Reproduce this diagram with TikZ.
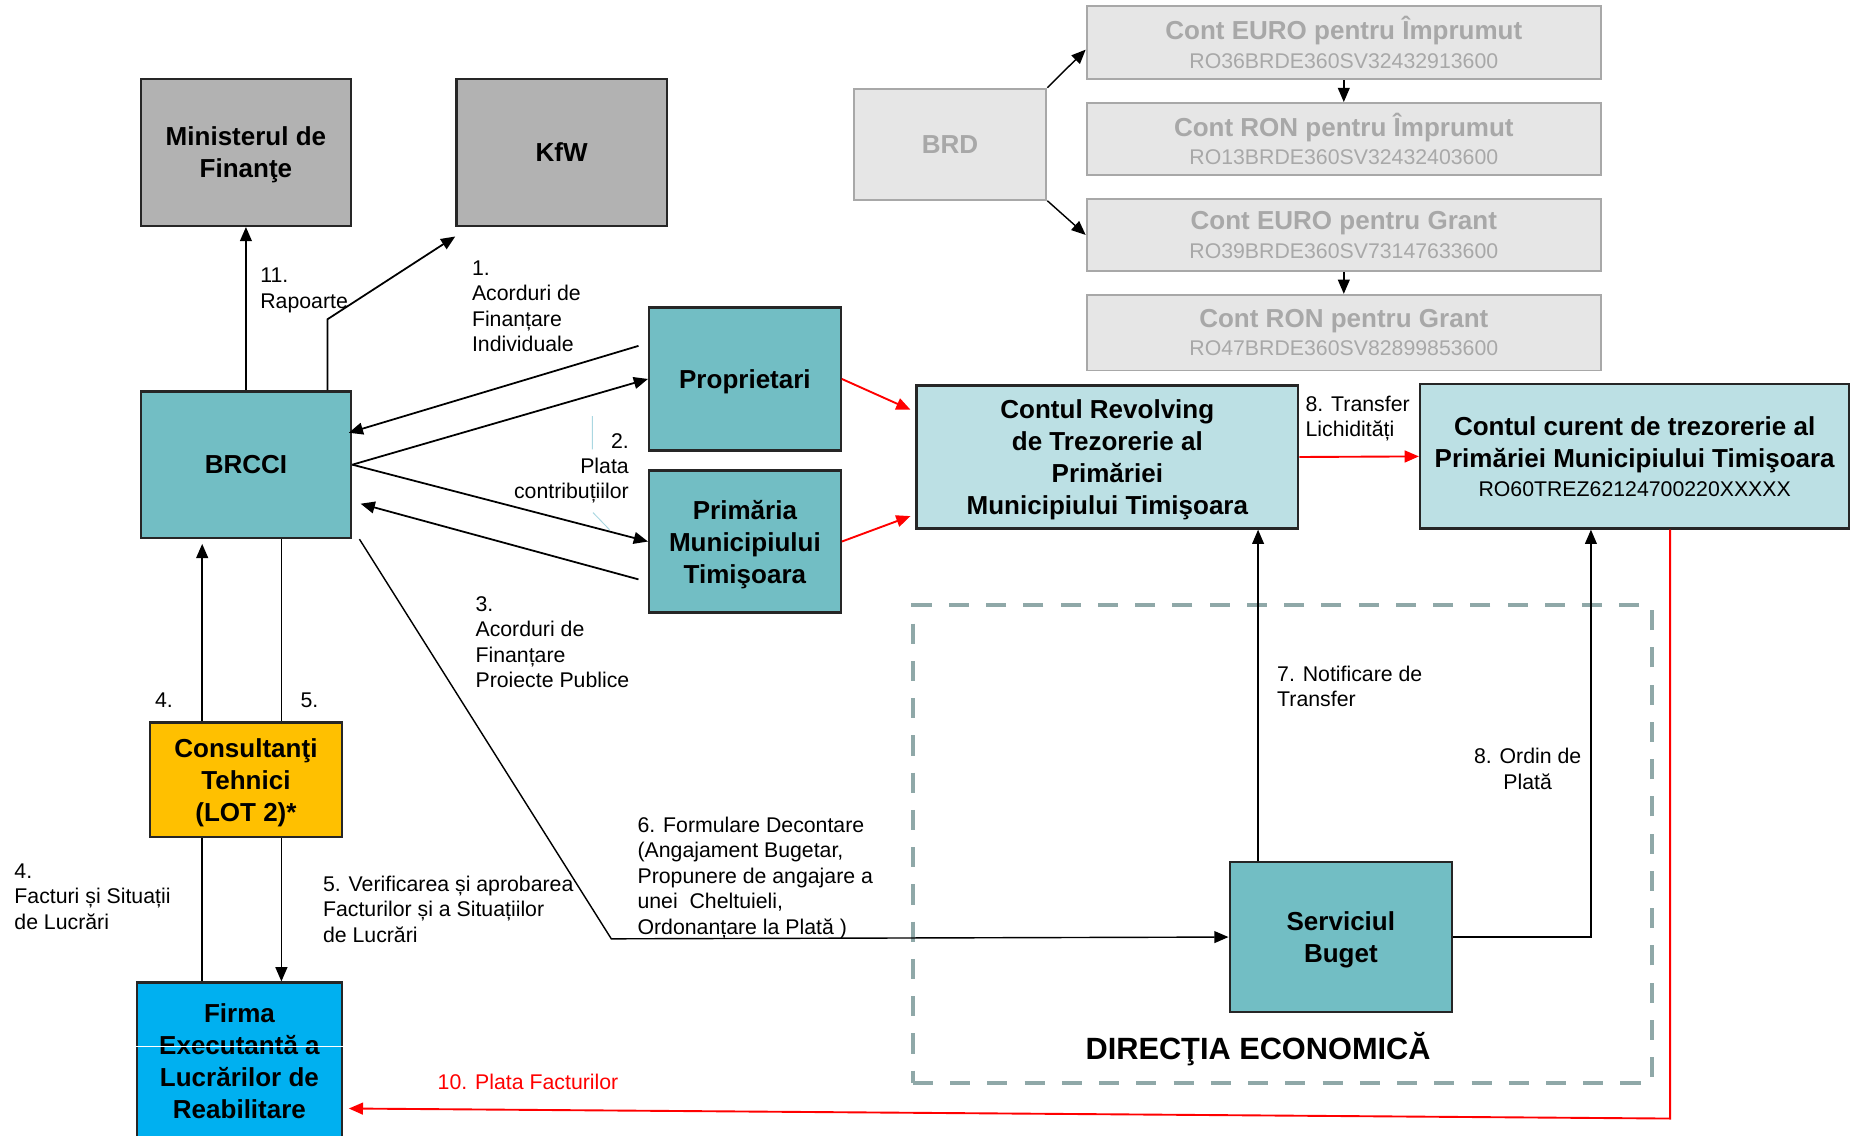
\documentclass[tikz,border=0pt]{standalone}
\usepackage{fontspec}
\setmainfont{Liberation Sans}
\usetikzlibrary{arrows.meta,positioning}
\definecolor{teal1}{RGB}{114,190,196}
\definecolor{teal2}{RGB}{188,224,228}
\definecolor{gray1}{RGB}{178,178,178}
\definecolor{gray2}{RGB}{230,230,230}
\definecolor{gray3}{RGB}{168,168,168}
\definecolor{lot}{RGB}{255,192,0}
\definecolor{firm}{RGB}{0,176,240}
\definecolor{zone}{RGB}{143,168,168}
\definecolor{hint}{RGB}{170,215,225}

\begin{document}
\begin{tikzpicture}[x=1pt,y=-1pt,
  box/.style={draw=black!85,line width=2pt,inner sep=0pt,align=center,
    font=\bfseries\fontsize{22}{27}\selectfont},
  gbox/.style={box,draw=gray3,fill=gray2,text=gray3,line width=1.6pt},
  acct/.style={gbox,minimum width=435pt},
  lbl/.style={inner sep=0pt,align=left,anchor=base west,
    font=\fontsize{18}{21.5}\selectfont},
  arr/.style={line width=1.5pt,-{Triangle[length=12pt,width=10pt]}},
  rarr/.style={arr,draw=red,line width=1.6pt},
  ln/.style={line width=1.5pt}]
 \useasboundingbox (0,0) rectangle (1568,960);
 \node[draw=zone,line width=3.5pt,dash pattern=on 17pt off 14.5pt,
   minimum width=625pt,minimum height=404pt,inner sep=0pt] (dec) at (1084.5,714) {};
 \node[anchor=base,font=\bfseries\fontsize{26}{30}\selectfont] (dectxt) at (1064,896)
  {DIRECŢIA ECONOMICĂ};

 \node[box,fill=gray1,minimum width=178pt,minimum height=124pt,text depth=-1.4pt] (mof) at (208,129)
  {Ministerul de\\Finanţe};
 \node[box,fill=gray1,minimum width=178pt,minimum height=124pt,text depth=-4pt] (kfw) at (475,129) {KfW};
 \node[box,fill=teal1,minimum width=178pt,minimum height=124pt,text depth=-2pt] (brcci) at (208,393) {BRCCI};
 \node[box,fill=teal1,minimum width=162pt,minimum height=121pt,text depth=-1.4pt] (prop) at (630,320.5) {Proprietari};
 \node[box,fill=teal1,minimum width=162pt,minimum height=120pt,text depth=-3.4pt] (prim) at (630,458)
  {Primăria\\Municipiului\\Timişoara};
 \node[box,fill=teal2,minimum width=323pt,minimum height=121pt,text depth=-5.4pt] (rev) at (936.5,386.5)
  {Contul Revolving\\de Trezorerie al\\Primăriei\\Municipiului Timişoara};
 \node[box,fill=teal2,minimum width=363pt,minimum height=122pt,text depth=-6pt] (cur) at (1382.5,386)
  {Contul curent de trezorerie al\\Primăriei Municipiului Timişoara\\[-2pt]
   {\mdseries\fontsize{18}{22}\selectfont RO60TREZ62124700220XXXXX}};
 \node[box,fill=lot,minimum width=162pt,minimum height=97pt,text depth=-3.4pt] (cons) at (208,659.5)
  {Consultanţi\\Tehnici\\(LOT 2)*};
 \node[box,fill=firm,minimum width=173pt,minimum height=133pt,text depth=-2pt] (firma) at (202.5,897.5)
  {Firma\\Executantă a\\Lucrărilor de\\Reabilitare};
 \draw[white,line width=0.8pt] (firma.west |- 0,885) -- (firma.east |- 0,885);
 \node[box,fill=teal1,minimum width=188pt,minimum height=127pt,text depth=-3.4pt] (bug) at (1134,792.5)
  {Serviciul\\Buget};

 \node[gbox,minimum width=163pt,minimum height=94pt,text depth=-2pt] (brd) at (803.5,122) {BRD};
 \node[acct,minimum height=62pt] (acc1) at (1136.5,36)
  {Cont EURO pentru Împrumut\\[-3pt]{\mdseries\fontsize{18}{22}\selectfont RO36BRDE360SV32432913600}};
 \node[acct,minimum height=61pt,below=18.5pt of acc1] (acc2)
  {Cont RON pentru Împrumut\\[-3pt]{\mdseries\fontsize{18}{22}\selectfont RO13BRDE360SV32432403600}};
 \node[acct,minimum height=61pt,below=18.5pt of acc2] (acc3)
  {Cont EURO pentru Grant\\[-3pt]{\mdseries\fontsize{18}{22}\selectfont RO39BRDE360SV73147633600}};
 \node[acct,minimum height=64pt,below=18.5pt of acc3] (acc4)
  {Cont RON pentru Grant\\[-3pt]{\mdseries\fontsize{18}{22}\selectfont RO47BRDE360SV82899853600}};
 \draw[arr,line width=1.2pt] (brd.north east) -- ([yshift=-6pt]acc1.west);
 \draw[arr,line width=1.2pt] (brd.south east) -- (acc3.west);
 \draw[arr,line width=1.2pt] (acc1.south) -- (acc2.north);
 \draw[arr,line width=1.2pt] (acc3.south) -- (acc4.north);

 \draw[arr] (brcci.north) -- (mof.south);
 \draw[arr] ([xshift=69pt]brcci.north) -- ++(0,-60) -- ([yshift=-8pt]kfw.south west);
 \draw[arr] ([shift={(-8,-28)}]prop.west) -- ([shift={(-3,-27)}]brcci.east);
 \draw[arr] (brcci.east) -- (prop.west);
 \draw[arr] (brcci.east) -- (prim.west);
 \draw[arr] ([shift={(-8,32)}]prim.west) -- ([shift={(7,33)}]brcci.east);
 \draw[arr,line width=1.2pt] ([xshift=6pt]brcci.south east) -- ++(213,338) -- (bug.west);
 \draw[arr] ([xshift=-37pt]cons.north) -- ([xshift=-37pt,yshift=-4pt]brcci.south);
 \draw[ln] ([xshift=30pt]brcci.south) -- ([xshift=30pt]cons.north);
 \draw[ln] ([xshift=-37pt]cons.south) -- ([xshift=-37pt]cons.south |- firma.north);
 \draw[arr] ([xshift=30pt]cons.south) -- ([xshift=30pt]cons.south |- firma.north);
 \draw[rarr] (prop.east) -- ([shift={(-4,-40)}]rev.west);
 \draw[rarr] (prim.east) -- ([shift={(-4,50)}]rev.west);
 \draw[rarr] (rev.east) -- (cur.west);
 \draw[arr,line width=1.1pt] ([xshift=-70pt]bug.north) -- ([xshift=-70pt]bug.north |- rev.south);
 \draw[arr,line width=1.1pt] (bug.east) -| ([xshift=-37pt]cur.south);
 \draw[rarr] ([xshift=30pt]cur.south) -- ++(0,498) -- ([shift={(5,40)}]firma.east);
 \draw[hint,line width=0.8pt] (501,352) -- (501,380) (501.5,433.5) -- (515.5,448);

 \node[lbl] (l11) at (220,260.5) {11.\\Rapoarte};
 \node[lbl] (l1) at (399,297.5) {1.\\Acorduri de\\Finanțare\\Individuale};
 \node[lbl,align=right,anchor=base east] (l2) at (532,422) {2.\\Plata\\contribuțiilor};
 \node[lbl] (l3) at (402,581.5) {3.\\Acorduri de\\Finanțare\\Proiecte Publice};
 \node[lbl] (l4a) at (131,598) {4.};
 \node[lbl] (l5a) at (254,598) {5.};
 \node[lbl] (l4b) at (12,786) {4.\\Facturi și Situații\\de Lucrări};
 \node[lbl] (l5b) at (273,797) {5. Verificarea și aprobarea\\Facturilor și a Situațiilor\\de Lucrări};
 \node[lbl] (l6) at (539,790)
  {6. Formulare Decontare\\(Angajament Bugetar,\\Propunere de angajare a\\unei\ \ Cheltuieli,\\Ordonanțare la Plată )};
 \node[lbl] (l7) at (1080,597.5) {7. Notificare de\\Transfer};
 \node[lbl,align=center,anchor=base] (l8b) at (1292,667.5) {8. Ordin de\\Plată};
 \node[lbl] (l8a) at (1104,369.5) {8. Transfer\\Lichidități};
 \node[lbl,text=red] (l10) at (370,921) {10. Plata Facturilor};
\end{tikzpicture}
\end{document}
